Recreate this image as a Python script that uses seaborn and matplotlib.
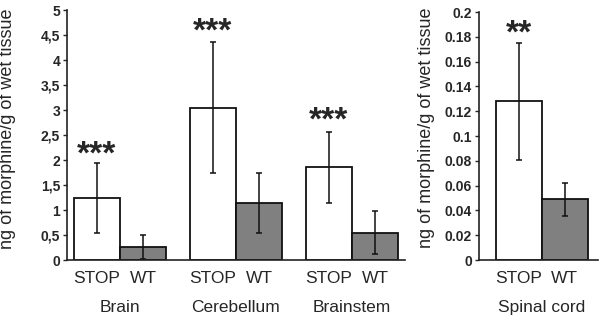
import numpy as np
import pandas as pd
import matplotlib
matplotlib.use("Agg")
import matplotlib.pyplot as plt
import seaborn as sns
from matplotlib.ticker import FuncFormatter

sns.set_style("ticks")
plt.rcParams['font.family'] = ['Liberation Sans', 'DejaVu Sans']

# ---- data ----
regions = ["Brain", "Cerebellum", "Brainstem"]
genotypes = ["STOP", "WT"]
brain_vals = [1.25, 0.27]
brain_err = [0.70, 0.24]
cereb_vals = [3.05, 1.15]
cereb_err = [1.31, 0.60]
bstem_vals = [1.86, 0.55]
bstem_err = [0.71, 0.43]
spinal_region = "Spinal cord"
spinal_vals = [0.128, 0.049]
spinal_err = [0.047, 0.0135]
sig_left = ["***", "***", "***"]
sig_right = "**"
ylabel = "ng of morphine/g of wet tissue"
left_ticks = [0, 0.5, 1, 1.5, 2, 2.5, 3, 3.5, 4, 4.5, 5]
right_ticks = [0, 0.02, 0.04, 0.06, 0.08, 0.1, 0.12, 0.14, 0.16, 0.18, 0.2]

colors = {"STOP": "white", "WT": "#808080"}

# ---- build table ----
group_pos = [0.0, 2.52, 5.04]
rows = []
for g, (reg, vals, errs) in enumerate(zip(regions, [brain_vals, cereb_vals, bstem_vals],
                                           [brain_err, cereb_err, bstem_err])):
    for k, gen in enumerate(genotypes):
        rows.append(dict(region=reg, geno=gen, pos=group_pos[g] + k, val=vals[k], err=errs[k]))
df_left = pd.DataFrame(rows)
df_right = pd.DataFrame(dict(region=spinal_region, geno=genotypes, pos=[0.0, 1.0],
                             val=spinal_vals, err=spinal_err))

fig = plt.figure(figsize=(6.0, 3.22), dpi=100)
axL = fig.add_axes([67/600, 1-260/322, 338/600, 250/322])
axR = fig.add_axes([479/600, 1-260/322, 119/600, 248/322])

tick_fs = 10
lab_fs = 12.5
star_fs = 24

for ax, df in [(axL, df_left), (axR, df_right)]:
    sns.barplot(data=df, x="pos", y="val", hue="geno", palette=colors, native_scale=True,
                dodge=False, width=1.0, edgecolor="#111111", linewidth=1.3, legend=False,
                errorbar=None, ax=ax)
    ax.errorbar(df["pos"], df["val"], yerr=df["err"], fmt="none", ecolor="#111111",
                elinewidth=1.1, capsize=2.5, capthick=1.1)
    sns.despine(ax=ax)
    for s in ["left", "bottom"]:
        ax.spines[s].set_linewidth(1.2)
        ax.spines[s].set_color("#222222")
    ax.set_xticks(df["pos"])
    ax.set_xticklabels(df["geno"], fontsize=lab_fs)
    ax.tick_params(axis="x", length=0, pad=8)
    ax.tick_params(axis="y", length=3, width=1.0, pad=2, labelsize=tick_fs)
    ax.set_xlabel("")
    ax.set_ylabel(ylabel, fontsize=13)
    # group labels
    for reg in df["region"].unique():
        cx = df.loc[df["region"] == reg, "pos"].mean()
        ax.text(cx, -0.19, reg, transform=ax.get_xaxis_transform(), ha="center",
                va="center", fontsize=lab_fs)

axL.set_xlim(-0.65, 6.69)
axL.set_ylim(0, 5)
axL.set_yticks(left_ticks)
axL.yaxis.set_major_formatter(FuncFormatter(lambda v, p: f"{v:g}".replace(".", ",")))
for lab in axL.get_yticklabels():
    lab.set_fontweight("bold")
    lab.set_fontsize(tick_fs)
axL.yaxis.set_label_coords(-0.15, 0.524)

axR.set_xlim(-0.86, 1.72)
axR.set_ylim(0, 0.2)
axR.set_yticks(right_ticks)
axR.yaxis.set_major_formatter(FuncFormatter(lambda v, p: f"{v:g}"))
for lab in axR.get_yticklabels():
    lab.set_fontweight("bold")
    lab.set_fontsize(tick_fs)
axR.yaxis.set_label_coords(-0.37, 0.534)

# significance stars
star_y_left = [2.1, 4.55, 2.77]
for g, s in enumerate(sig_left):
    axL.text(group_pos[g], star_y_left[g], s, ha="center", va="center",
             fontsize=star_fs, fontweight="bold")
axR.text(0, 0.1825, sig_right, ha="center", va="center", fontsize=star_fs, fontweight="bold")

fig.savefig("out.png", dpi=100)
